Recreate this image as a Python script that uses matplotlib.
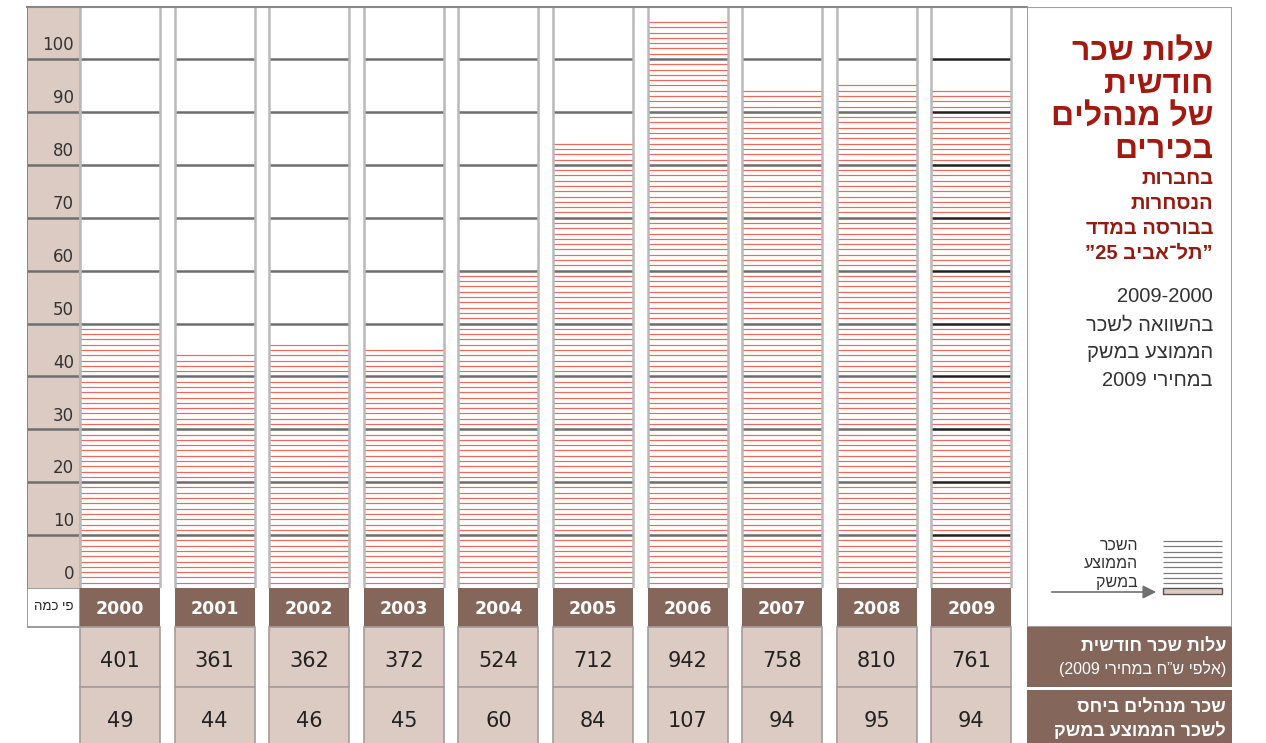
import re

import matplotlib
matplotlib.use("Agg")
import matplotlib.pyplot as plt
import numpy as np
from matplotlib.patches import Rectangle, FancyArrowPatch

YEARS = [2000, 2001, 2002, 2003, 2004, 2005, 2006, 2007, 2008, 2009]
MONTHLY_COST = [401, 361, 362, 372, 524, 712, 942, 758, 810, 761]   # thousand NIS, 2009 prices
RATIO = [49, 44, 46, 45, 60, 84, 107, 94, 95, 94]                   # x average wage
Y_TICKS = [0, 10, 20, 30, 40, 50, 60, 70, 80, 90, 100]

TITLE = ["עלות שכר", "חודשית", "של מנהלים", "בכירים"]
SUBTITLE = ["בחברות", "הנסחרות", "בבורסה במדד", "”תל־אביב 25”"]
DESCRIPTION = ["2009-2000", "בהשוואה לשכר", "הממוצע במשק", "במחירי 2009"]
LEGEND_TEXT = ["השכר", "הממוצע", "במשק"]
ROW1_LABEL = ["עלות שכר חודשית", "(אלפי ש”ח במחירי 2009)"]
ROW2_LABEL = ["שכר מנהלים ביחס", "לשכר הממוצע במשק"]
CORNER_LABEL = "פי כמה"

TAN = "#dccbc3"
BROWN = "#84665b"
RED_LINE = "#f2675a"
GRID = "#6e6e6e"
GRID_LAST = "#222222"
EDGE = "#b9b9b9"
TITLE_RED = "#a3190f"
TEXT = "#333333"

HEB = ["Liberation Sans", "DejaVu Sans"]
NUM = ["DejaVu Sans"]

W, H = 1266, 743
PITCH, X0 = 94.6, 120.0      # px between column centres, centre of first column
HW = 40 / PITCH              # half column width in column units
UNIT = 5.29                  # px per value unit


def rtl(s):
    """matplotlib has no bidi: flip Hebrew to visual order, keep digit runs."""
    if not re.search(r"[\u0590-\u05ff]", s):
        return s
    s = s[::-1]
    s = re.sub(r"[0-9]+", lambda m: m.group(0)[::-1], s)
    return s.translate(str.maketrans("()", ")("))


def px_axes(x0, y0, x1, y1):
    ax = fig.add_axes([x0 / W, 1 - y1 / H, (x1 - x0) / W, (y1 - y0) / H])
    ax.set_axis_off()
    return ax


def ux(px):
    return (px - X0) / PITCH


fig = plt.figure(figsize=(W / 100, H / 100), dpi=100)
fig.patch.set_facecolor("white")

# ---- main chart ---------------------------------------------------------
ax = px_axes(27, 7, 1027, 588)
xmin, xmax = ux(27), ux(1027)
ymax = (588 - 7) / UNIT
ax.set_xlim(xmin, xmax)
ax.set_ylim(0, ymax)

axis_l, axis_r = xmin, ux(80)
ax.add_patch(Rectangle((axis_l, 0), axis_r - axis_l, ymax, fc=TAN, ec="none", zorder=1))
ax.vlines(axis_l, 0, ymax, colors="#8a8a8a", lw=1.5, zorder=4)
ax.vlines(axis_r, 0, ymax, colors=EDGE, lw=1.5, zorder=4)
ax.hlines(Y_TICKS[1:], axis_l, axis_r, colors=GRID, lw=1.8, zorder=3)
for v in Y_TICKS:
    ax.text(ux(74), v + 2.6, str(v), ha="right", va="center",
            fontsize=12, color=TEXT, family=NUM, zorder=5)

for i, (year, h) in enumerate(zip(YEARS, RATIO)):
    l, r = i - HW, i + HW
    levels = np.arange(h, 0, -1)
    ax.hlines(levels, l, r, colors=RED_LINE, lw=0.85, zorder=2)
    ax.hlines(Y_TICKS[1:], l, r, colors=GRID_LAST if year == YEARS[-1] else GRID,
              lw=1.8, zorder=3)
    ax.vlines([l, r], 0, ymax, colors=EDGE, lw=1.8, zorder=4)

ax.axhline(ymax, color="#888888", lw=1.5, zorder=5, clip_on=False)

# ---- table under the chart ---------------------------------------------
tb = px_axes(27, 588, 1027, 743)
tb.set_xlim(xmin, xmax)
tb.set_ylim(155, 0)

tb.add_patch(Rectangle((axis_l, 0), axis_r - axis_l, 39, fc="white", ec="#8a8a8a", lw=1.2))
tb.text((axis_l + axis_r) / 2, 19.5, rtl(CORNER_LABEL), ha="center", va="center",
        fontsize=9.5, color="#222222", family=HEB)

for i, (year, cost, ratio) in enumerate(zip(YEARS, MONTHLY_COST, RATIO)):
    l = i - HW
    tb.add_patch(Rectangle((l, 0), 2 * HW, 39, fc=BROWN, ec="none"))
    tb.add_patch(Rectangle((l, 39), 2 * HW, 60, fc=TAN, ec="#a39d9b", lw=1.2))
    tb.add_patch(Rectangle((l, 99), 2 * HW, 70, fc=TAN, ec="#a39d9b", lw=1.2))
    tb.text(i, 21, str(year), ha="center", va="center", fontsize=12.5,
            fontweight="bold", color="white", family=NUM)
    tb.text(i, 73, str(cost), ha="center", va="center", fontsize=15,
            color="#222222", family=NUM)
    tb.text(i, 133, str(ratio), ha="center", va="center", fontsize=15,
            color="#222222", family=NUM)

# ---- right hand panel ---------------------------------------------------
rp = px_axes(1027, 7, 1232, 743)
rp.set_xlim(0, 205)
rp.set_ylim(736, 0)
rp.add_patch(Rectangle((0, 0), 205, 620, fc="white", ec="#a0a0a0", lw=1.5))
rp.add_patch(Rectangle((0, 620), 205, 60, fc=BROWN, ec="none"))
rp.add_patch(Rectangle((0, 683), 205, 60, fc=BROWN, ec="none"))

for k, line in enumerate(TITLE):
    rp.text(186, 46 + 32.3 * k, rtl(line), ha="right", va="center", fontsize=23,
            fontweight="bold", color=TITLE_RED, family=HEB)
for k, line in enumerate(SUBTITLE):
    rp.text(186, 172 + 24.7 * k, rtl(line), ha="right", va="center", fontsize=14.5,
            fontweight="bold", color="#961a10", family=HEB)
for k, line in enumerate(DESCRIPTION):
    rp.text(186, 290 + 27.7 * k, rtl(line), ha="right", va="center", fontsize=14.5,
            color=TEXT, family=HEB)

# legend swatch
for k, line in enumerate(LEGEND_TEXT):
    rp.text(111, 539 + 18 * k, rtl(line), ha="right", va="center", fontsize=11.5,
            color=TEXT, family=HEB)
rp.hlines(np.linspace(534, 576, 9), 136, 195, colors="#7c7c7c", lw=0.9)
rp.add_patch(Rectangle((136, 581), 59, 6, fc=TAN, ec="#555555", lw=1.0))
rp.add_patch(FancyArrowPatch((22, 585), (132, 585), arrowstyle="-|>,head_length=8,head_width=4",
                             color="#707070", lw=1.2, mutation_scale=1))

rp.text(199, 640, rtl(ROW1_LABEL[0]), ha="right", va="center", fontsize=13,
        fontweight="bold", color="white", family=HEB)
rp.text(199, 662, rtl(ROW1_LABEL[1]), ha="right", va="center", fontsize=11.5,
        color="white", family=HEB)
rp.text(199, 701, rtl(ROW2_LABEL[0]), ha="right", va="center", fontsize=13,
        fontweight="bold", color="white", family=HEB)
rp.text(199, 724, rtl(ROW2_LABEL[1]), ha="right", va="center", fontsize=13,
        fontweight="bold", color="white", family=HEB)

fig.savefig("out.png", dpi=100, facecolor="white")
